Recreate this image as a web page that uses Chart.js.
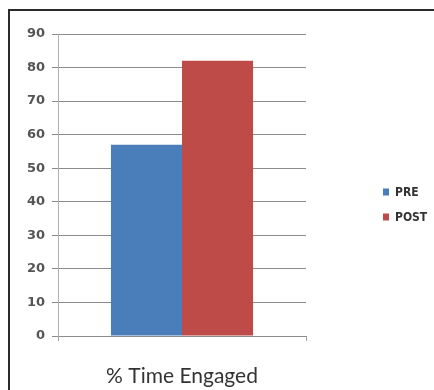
<!DOCTYPE html>
<html>
<head>
<meta charset="utf-8">
<script src="https://cdn.jsdelivr.net/npm/chart.js@4"></script>
<style>
  html, body { margin: 0; padding: 0; background: #fff; }
  #wrap { position: relative; width: 434px; height: 390px; overflow: hidden; }
  #frame { position: absolute; left: 8px; top: 9px; width: 460px; height: 420px;
           border: 2px solid #2b2b2b; box-sizing: border-box; }
  canvas { position: absolute; left: 0; top: 0; }
</style>
</head>
<body>
<div id="wrap">
  <div id="frame"></div>
  <canvas id="c" width="434" height="390"></canvas>
</div>
<script>
// Categories and series
const categories = ['% Time Engaged'];
const seriesNames = ['PRE', 'POST'];
const preValues = [57];
const postValues = [82];
const seriesColors = ['#4a7ebb', '#be4b48'];
const yTicks = [0, 10, 20, 30, 40, 50, 60, 70, 80, 90];

// Simple square-marker legend drawn to the right of the plot
const sideLegend = {
  id: 'sideLegend',
  afterDraw(chart) {
    const ctx = chart.ctx;
    const area = chart.chartArea;
    const x0 = area.right + 77;
    const rowGap = 25;
    const yMid = (area.top + area.bottom) / 2 + 19;
    const n = chart.data.datasets.length;
    ctx.save();
    ctx.font = 'bold 12px "DejaVu Sans Condensed", "Liberation Sans Narrow", sans-serif';
    ctx.textBaseline = 'middle';
    chart.data.datasets.forEach((ds, i) => {
      const y = yMid + (i - (n - 1) / 2) * rowGap;
      ctx.fillStyle = ds.backgroundColor;
      ctx.fillRect(x0, y - 3, 6, 7);
      ctx.fillStyle = '#333';
      ctx.fillText(ds.label, x0 + 12, y + 1);
    });
    ctx.restore();
  }
};

new Chart(document.getElementById('c'), {
  type: 'bar',
  data: {
    labels: categories,
    datasets: [
      { label: seriesNames[0], data: preValues, backgroundColor: seriesColors[0] },
      { label: seriesNames[1], data: postValues, backgroundColor: seriesColors[1] }
    ]
  },
  options: {
    responsive: false,
    animation: false,
    devicePixelRatio: 1,
    layout: { padding: { top: 34, right: 128, left: 0, bottom: 0 } },
    categoryPercentage: 0.573,
    barPercentage: 1.0,
    plugins: { legend: { display: false }, tooltip: { enabled: false } },
    scales: {
      x: {
        grid: { display: true, drawOnChartArea: false, offset: true, tickLength: 5, color: '#a0a0a0' },
        border: { display: true, color: '#8c8c8c' },
        ticks: {
          color: '#333',
          padding: 23,
          font: { family: 'Lato, "Open Sans", sans-serif', size: 21 }
        },
        afterFit(scale) { scale.height = 54; }
      },
      y: {
        min: 0,
        max: 90,
        afterBuildTicks(scale) { scale.ticks = yTicks.map(v => ({ value: v })); },
        grid: { color: '#8c8c8c', tickLength: 6, lineWidth: 1 },
        border: { display: true, color: '#b0b0b0' },
        ticks: {
          color: '#555',
          padding: 7,
          font: { family: '"DejaVu Sans", sans-serif', size: 13, weight: 'bold' }
        },
        afterFit(scale) { scale.width = 58; }
      }
    }
  },
  plugins: [sideLegend]
});
</script>
</body>
</html>
